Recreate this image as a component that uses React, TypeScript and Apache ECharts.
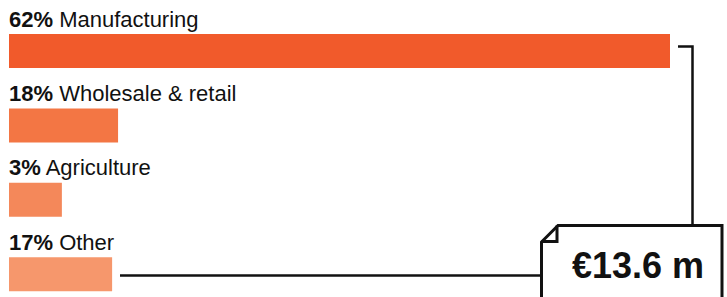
import React, { useEffect, useRef } from "react";
import * as echarts from "echarts";

const categories = ["Manufacturing", "Wholesale & retail", "Agriculture", "Other"];
const shares = [62, 18, 3, 17];
// bar lengths, relative to the Manufacturing bar (= 100)
const barLengths = [100, 16.5, 8.0, 15.6];
const barColors = ["#F15A2B", "#F37644", "#F4885A", "#F6976C"];
const totalLabel = "€13.6 m";

export default function App() {
  const ref = useRef<HTMLDivElement>(null);

  useEffect(() => {
    document.body.style.margin = "0";
    document.body.style.overflow = "hidden";
    if (!ref.current) return;
    const chart = echarts.init(ref.current, undefined, { renderer: "svg" });
    const font = "'Liberation Sans', Arial, Helvetica, sans-serif";
    const ink = "#111111";
    chart.setOption({
      animation: false,
      backgroundColor: "#ffffff",
      grid: { left: 9, top: 13.8, width: 661, height: 297.6, containLabel: false },
      xAxis: { type: "value", min: 0, max: 100, show: false },
      yAxis: {
        type: "category",
        data: categories,
        inverse: true,
        show: false,
      },
      series: [
        {
          type: "bar",
          barWidth: 34,
          silent: true,
          data: barLengths.map((v, i) => ({ value: v, itemStyle: { color: barColors[i] } })),
          label: {
            show: true,
            position: [0, -26],
            align: "left",
            verticalAlign: "top",
            formatter: (p: any) => `{p|${shares[p.dataIndex]}%}{n| ${categories[p.dataIndex]}}`,
            rich: {
              p: { fontFamily: font, fontWeight: "bold", fontSize: 22, lineHeight: 22, color: ink },
              n: { fontFamily: font, fontWeight: "normal", fontSize: 22, lineHeight: 22, color: ink },
            },
          },
        },
      ],
      graphic: [
        {
          type: "polyline",
          shape: { points: [[678, 46.5], [692.5, 46.5], [692.5, 226]] },
          style: { stroke: ink, lineWidth: 2.5, fill: "none" },
        },
        {
          type: "line",
          shape: { x1: 120, y1: 275.5, x2: 542, y2: 275.5 },
          style: { stroke: ink, lineWidth: 2.5 },
        },
        {
          type: "polygon",
          shape: {
            points: [[541.5, 242], [558, 225.5], [722, 225.5], [722, 330], [541.5, 330]],
          },
          style: { stroke: ink, lineWidth: 3, fill: "#ffffff" },
        },
        {
          type: "polyline",
          shape: { points: [[557, 225.5], [557, 241.5], [541.5, 241.5]] },
          style: { stroke: ink, lineWidth: 3, fill: "none" },
        },
        {
          type: "text",
          x: 638,
          y: 265.5,
          style: {
            text: totalLabel,
            fontFamily: font,
            fontWeight: "bold",
            fontSize: 36,
            fill: ink,
            align: "center",
            verticalAlign: "middle",
          },
        },
      ],
    });
    return () => chart.dispose();
  }, []);

  return <div ref={ref} style={{ width: 727, height: 330 }} />;
}
